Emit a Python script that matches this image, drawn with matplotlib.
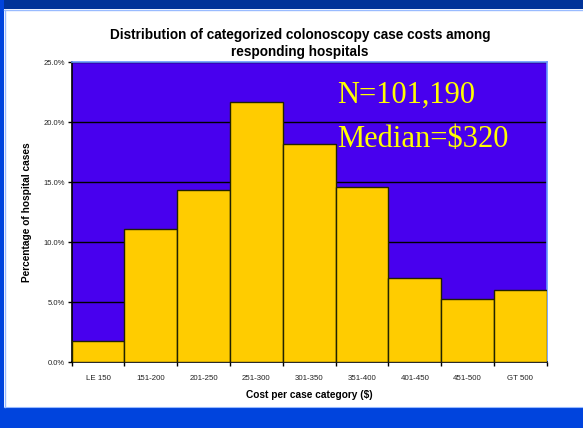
import matplotlib
matplotlib.use("Agg")
import matplotlib.pyplot as plt
from matplotlib.patches import Rectangle
import numpy as np

categories = ["LE 150", "151-200", "201-250", "251-300", "301-350",
              "351-400", "401-450", "451-500", "GT 500"]
percentages = [1.8, 11.1, 14.4, 21.7, 18.2, 14.6, 7.0, 5.3, 6.0]
y_ticks = [0, 5, 10, 15, 20, 25]
y_tick_labels = ["0.0%", "5.0%", "10.0%", "15.0%", "20.0%", "25.0%"]

plt.rcParams['font.family'] = ['Liberation Sans', 'DejaVu Sans']

W, H = 583, 428
fig = plt.figure(figsize=(W / 100, H / 100), dpi=100, facecolor='white')

def fx(x):
    return x / W

def fy(y):
    return 1 - y / H

# slide background bands
fig.patches.append(Rectangle((0, fy(9)), 1, 9 / H, transform=fig.transFigure,
                             facecolor='#003399', edgecolor='none', zorder=0))
fig.patches.append(Rectangle((0, 0), fx(4), 1, transform=fig.transFigure,
                             facecolor='#0044dd', edgecolor='none', zorder=0))
fig.patches.append(Rectangle((0, 0), 1, 21 / H, transform=fig.transFigure,
                             facecolor='#0044dd', edgecolor='none', zorder=0))
# light border of white panel
fig.lines.append(plt.Line2D([fx(4), 1], [fy(9.5), fy(9.5)], transform=fig.transFigure,
                            color='#99bbff', lw=1.0))
fig.lines.append(plt.Line2D([fx(4.5), fx(4.5)], [21 / H, fy(9.5)], transform=fig.transFigure,
                            color='#99bbff', lw=1.0))
fig.lines.append(plt.Line2D([fx(4), 1], [21.5 / H, 21.5 / H], transform=fig.transFigure,
                            color='#99bbff', lw=0.8))

left, right, top, bottom = 71.7, 546.7, 62.3, 362.3
ax = fig.add_axes([fx(left), fy(bottom), (right - left) / W, (bottom - top) / H])
ax.set_facecolor('#4800ee')

x = np.arange(len(categories))
ax.bar(x, percentages, width=1.0, color='#ffcc00', edgecolor='#222200',
       linewidth=1.0, zorder=3)
ax.set_xlim(-0.5, len(categories) - 0.5)
ax.set_ylim(0, 25)

ax.set_yticks(y_ticks)
ax.set_yticklabels(y_tick_labels, fontsize=5.5, color='#222222')
ax.yaxis.grid(True, color='black', linewidth=1.0, zorder=1)
ax.set_axisbelow(True)

ax.set_xticks(np.arange(len(categories) + 1) - 0.5, minor=False)
ax.set_xticklabels([])
ax.set_xticks(x, minor=True)
ax.set_xticklabels(categories, minor=True, fontsize=5.7, color='#222222')
ax.tick_params(axis='x', which='major', direction='out', length=3, width=1, color='black')
ax.tick_params(axis='x', which='minor', length=0, pad=9)
ax.tick_params(axis='y', direction='out', length=3, width=1, color='black', pad=2)

for s in ['left', 'bottom']:
    ax.spines[s].set_color('black')
    ax.spines[s].set_linewidth(1.2)
for s in ['top', 'right']:
    ax.spines[s].set_color('#6699ff')
    ax.spines[s].set_linewidth(1.2)

ax.set_ylabel("Percentage of hospital cases", fontsize=7.3, fontweight='bold', labelpad=8)
ax.set_xlabel("Cost per case category ($)", fontsize=7.3, fontweight='bold', labelpad=6)

fig.text(fx(300), fy(43.5), "Distribution of categorized colonoscopy case costs among\nresponding hospitals",
         ha='center', va='center', fontsize=9.8, fontweight='bold', linespacing=1.2)

serif = ['Liberation Serif', 'DejaVu Serif']
fig.text(fx(337), fy(103), "N=101,190", fontsize=22, color='#ffff00', family=serif,
         ha='left', va='baseline')
fig.text(fx(337), fy(147), "Median=$320", fontsize=22, color='#ffff00', family=serif,
         ha='left', va='baseline')

fig.savefig("out.png", dpi=100, facecolor='white')
